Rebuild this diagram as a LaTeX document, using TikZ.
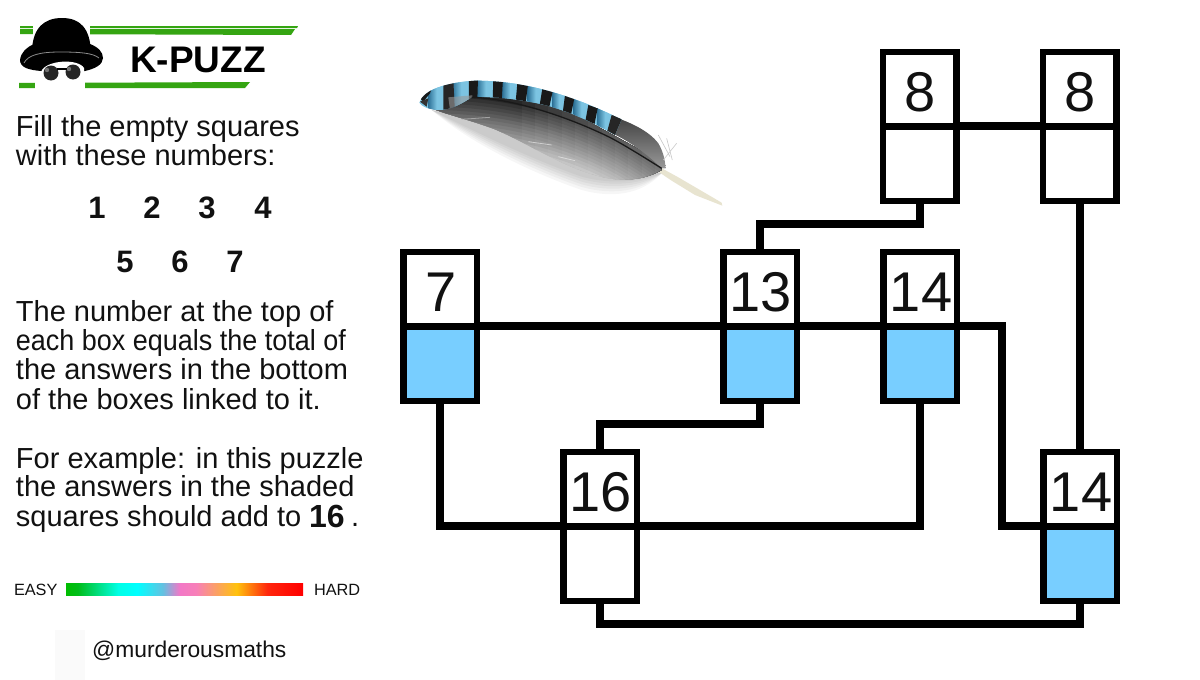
\documentclass[tikz,border=0pt]{standalone}
\usepackage{fontspec}
\setmainfont{Liberation Sans}
\usetikzlibrary{calc}
\definecolor{boxblue}{HTML}{78CEFF}
\definecolor{kgreen}{HTML}{35A512}
\definecolor{inkc}{HTML}{111111}
\definecolor{fblue}{HTML}{7CC4E2}
\definecolor{fdeep}{HTML}{2F7398}
\definecolor{quill}{HTML}{E8E4D0}
\newcommand\bigdigits[1]{\raisebox{-3pt}[\height][0pt]{\hspace{2pt}#1}}
\pgfdeclarehorizontalshading{levelbar}{100bp}{
 rgb(0bp)=(0,0.74,0);
 rgb(25bp)=(0,0.74,0);
 rgb(27.5bp)=(0,0.74,0.1);
 rgb(36bp)=(0,1,0.9);
 rgb(40bp)=(0,1,1);
 rgb(45.5bp)=(0.40,0.75,0.88);
 rgb(49bp)=(0.95,0.47,0.78);
 rgb(52.5bp)=(0.97,0.50,0.72);
 rgb(61bp)=(1,0.76,0.05);
 rgb(67.5bp)=(1,0.15,0.05);
 rgb(75bp)=(1,0,0);
 rgb(100bp)=(1,0,0)}
\tikzset{
 x=1pt,y=-1pt,
 upper/.style={draw=black,line width=6.5pt,fill=white,minimum width=73.5pt,minimum height=74.5pt,inner sep=0pt,outer sep=0pt,font=\fontsize{56}{56}\selectfont,text=inkc},
 lower/.style={upper,font=\normalsize},
 shaded box/.style={lower,fill=boxblue},
 link/.style={draw=black,line width=8pt,line cap=butt,line join=miter},
 txt/.style={anchor=base west,inner sep=0pt,outer sep=0pt,font=\fontsize{29}{29}\selectfont,text=inkc},
 num/.style={anchor=base,inner sep=0pt,outer sep=0pt,font=\fontsize{31}{31}\selectfont\bfseries,text=inkc},
 small/.style={anchor=base west,inner sep=0pt,outer sep=0pt,font=\fontsize{16.3}{16.3}\selectfont,text=inkc},
}
\begin{document}
\begin{tikzpicture}
\useasboundingbox (0,0) rectangle (1200,680);
\fill[white] (0,0) rectangle (1200,680);
% faint patch
\fill[black!2] (55,630) rectangle (85,680);
% logo bars
\fill[kgreen] (20,26) -- (298,26) -- (297,28) -- (20,28) -- cycle;
\fill[kgreen] (20,29) -- (295,29) -- (291,35) -- (20,34) -- cycle;
\fill[kgreen] (19,83) -- (250,82) -- (245,88) -- (19,88) -- cycle;
% hat
\fill[white] (33,20) rectangle (90,36);
\fill[white] (35,70) rectangle (85,90);
\fill[black] (32,50) .. controls (33,28) and (44,18) .. (62,18) .. controls (80,18) and (90,28) .. (91,52) -- (91,60) -- (32,60) -- cycle;
\fill[black] (20,60) .. controls (21,52) and (27,47) .. (34,44) -- (90,44) .. controls (98,47) and (103,52) .. (103,58) .. controls (103,65) and (94,69) .. (85,71) -- (41,71) .. controls (30,70) and (20,68) .. (20,60) -- cycle;
\draw[black!45,line width=.8pt] (24,63) .. controls (28,55) and (40,52) .. (60,52) .. controls (80,52) and (93,53) .. (99,58);
\fill[white] (41,72) .. controls (45,60) and (78,58) .. (84,68) -- (85,82) -- (40,82) -- cycle;
\fill[black!85] (51,73) circle (7.5);
\fill[black!85] (73,72) circle (7.5);
\draw[black,line width=1.4pt] (57,69) -- (67,69);
\fill[black!55] (47,70) circle (2.2) (69,69) circle (2.2);
\node[anchor=base west,inner sep=0pt,font=\fontsize{37}{37}\selectfont\bfseries,text=black] (title) at (130,72) {K-PUZZ};
% text
\node[txt] (t1) at (16,136) {Fill the empty squares};
\node[txt] (t2) at (16,165) {with these numbers:};
\node[num] (n1) at (97,218) {1};
\node[num] (n2) at (152,218) {2};
\node[num] (n3) at (207,218) {3};
\node[num] (n4) at (263,218) {4};
\node[num] (n5) at (125,272) {5};
\node[num] (n6) at (180,272) {6};
\node[num] (n7) at (235,272) {7};
\node[txt] (t3) at (16,321) {The number at the top of};
\node[txt] (t4) at (16,350) {\scalebox{.93}[1]{each box equals the total of}};
\node[txt] (t5) at (16,379) {the answers in the bottom};
\node[txt] (t6) at (16,409) {of the boxes linked to it.};
\node[txt] (t7) at (16,468) {For example: in this puzzle};
\node[txt] (t8) at (16,496) {the answers in the shaded};
\node[txt] (t9) at (16,526) {squares should add to};
\node[num,anchor=base west,font=\fontsize{32}{32}\selectfont\bfseries] (t10) at (309,527) {16};
\node[txt] (t11) at (351,526) {.};
% difficulty bar
\node[small] (easy) at (14,595.5) {EASY};
\node[small] (hard) at (314,595.5) {HARD};
\shade[shading=levelbar] (66,583) rectangle (303,595);
\node[anchor=base west,inner sep=0pt,font=\fontsize{22.8}{22.8}\selectfont,text=inkc] (handle) at (92,657) {@murderousmaths};
% feather
\begin{scope}[shift={(395,60)},x=0.3333pt,y=-0.3333pt]
 % soft shadow
 \foreach \d in {45,36,28,20,12,5}{
  \fill[black,opacity=.035] (110,150) .. controls (220,\d*1+200) and (400,\d*1+290) .. (560,\d*1+345) .. controls (650,\d*1+370) and (740,\d*1+360) .. (800,340) -- (300,190) -- cycle;
 }
 % calamus
 \fill[quill] (795,322) -- (850,352) -- (980,428) -- (982,437) -- (900,405) -- (830,362) -- (790,335) -- cycle;
 % vane
 \begin{scope}
  \clip (75,125) .. controls (110,155) and (200,170) .. (300,208) .. controls (400,250) and (500,320) .. (610,348) .. controls (680,368) and (750,360) .. (800,330) -- (790,300) -- (500,140) -- (230,100) -- cycle;
  \fill[black!26] (40,20) rectangle (840,440);
  \foreach \k in {140,130,...,0}{
   \pgfmathtruncatemacro{\shadeval}{85-\k*0.42}
   \fill[black!\shadeval] (60,\k*1+110) .. controls (280,\k*1+105) and (480,\k*1+145) .. (650,\k*1+235) .. controls (700,\k*1+262) and (760,\k*1+300) .. (820,\k*1+345) -- (820,0) -- (60,0) -- cycle;
  }
  \foreach \x in {380,420,...,780}{
   \fill[white,opacity=.04] (\x,0) rectangle (840,440);
  }
 \end{scope}
 % pale barb streaks
 \draw[black!30,opacity=.8,line width=.8pt] (200,178) -- (285,172);
 \draw[black!6,opacity=.6,line width=.8pt] (400,245) -- (470,255) (490,290) -- (540,302);
 % tail of the upper band
 \shade[top color=black!75,bottom color=black!40] (650,168) .. controls (700,185) and (760,210) .. (790,250) .. controls (805,275) and (810,300) .. (812,325) -- (800,325) .. controls (760,285) and (700,240) .. (640,215) -- cycle;
 \draw[black!22,line width=.6pt] (790,225) -- (825,290) (815,235) -- (832,300) (805,300) -- (845,250);
 % blue band
 \begin{scope}
  \clip (73,128) .. controls (85,90) and (150,68) .. (240,62) .. controls (350,62) and (450,85) .. (550,122) .. controls (600,140) and (640,160) .. (680,178) -- (660,225) .. controls (600,190) and (500,140) .. (400,125) .. controls (330,112) and (280,110) .. (230,112) .. controls (200,130) and (170,150) .. (130,150) .. controls (100,148) and (80,140) .. (73,128) -- cycle;
  \fill[fblue] (40,40) rectangle (720,240);
  \foreach \a/\b in {100/150,172/225,247/297,322/368,398/445,472/512,536/582,606/655}{
   \shade[left color=fdeep,right color=fblue,middle color=fblue] (\a,40) rectangle (\b,240);
  }
  \fill[black!85] (145,60) -- (175,60) -- (180,160) -- (145,160) -- cycle;
  \fill[black!90] (222,55) -- (249,55) -- (247,120) -- (222,120) -- cycle;
  \fill[black!90] (295,55) -- (324,55) -- (320,125) -- (293,125) -- cycle;
  \fill[black!90] (368,60) -- (400,65) -- (392,130) -- (362,125) -- cycle;
  \fill[black!90] (443,80) -- (474,90) -- (462,145) -- (434,135) -- cycle;
  \fill[black!90] (510,105) -- (538,115) -- (527,170) -- (503,160) -- cycle;
  \fill[black!90] (580,135) -- (608,145) -- (597,200) -- (570,190) -- cycle;
  \fill[black!85] (650,165) -- (720,190) -- (720,240) -- (635,220) -- cycle;
  \fill[black!90] (70,110) -- (110,85) -- (105,100) -- (85,125) -- cycle;
  \fill[black!80] (75,125) -- (100,115) -- (95,140) -- cycle;
  \fill[black!40,opacity=.6] (160,112) -- (232,106) -- (232,118) -- (165,150) -- cycle;
 \end{scope}
 % shaft
 \draw[black!90,line width=1.3pt] (230,112) .. controls (350,115) and (520,170) .. (650,235) .. controls (700,262) and (760,300) .. (800,325);
\end{scope}
% boxes
\node[upper] (ta) at (919.5,89) {\bigdigits{8}};
\node[lower,anchor=north] (ba) at (ta.south) {};
\node[upper] (tb) at (1079.5,89) {\bigdigits{8}};
\node[lower,anchor=north] (bb) at (tb.south) {};
\node[upper] (tc) at (440,289) {\bigdigits{7}};
\node[shaded box,anchor=north] (bc) at (tc.south) {};
\node[upper] (td) at (760,289) {\bigdigits{13}};
\node[shaded box,anchor=north] (bd) at (td.south) {};
\node[upper] (te) at (920,289) {\bigdigits{14}};
\node[shaded box,anchor=north] (be) at (te.south) {};
\node[upper] (tf) at (600,489) {\bigdigits{16}};
\node[lower,anchor=north] (bf) at (tf.south) {};
\node[upper] (tg) at (1080,489) {\bigdigits{14}};
\node[shaded box,anchor=north] (bg) at (tg.south) {};
% rails
\coordinate (r1) at (0,224);
\coordinate (r2) at (0,424);
\coordinate (r3) at (0,624);
\coordinate (c1) at (1002,0);
% connectors
\draw[link] (ta.south east) -- (tb.south west);
\draw[link] (ba.south) -- (ba.south |- r1) -- (td.north |- r1) -- (td.north);
\draw[link] (bb.south) -- (bb.south |- tg.north);
\draw[link] (tc.south east) -- (td.south west);
\draw[link] (td.south east) -- (te.south west);
\draw[link] (te.south east) -- (te.south east -| c1) -- (tg.south west -| c1) -- (tg.south west);
\draw[link] (bc.south) -- (bc.south |- tf.south) -- (tf.south west);
\draw[link] (tf.south east) -- (be.south |- tf.south) -- (be.south);
\draw[link] (bd.south) -- (bd.south |- r2) -- (tf.north |- r2) -- (tf.north);
\draw[link] (bf.south) -- (bf.south |- r3) -- (bg.south |- r3) -- (bg.south);
\end{tikzpicture}
\end{document}
